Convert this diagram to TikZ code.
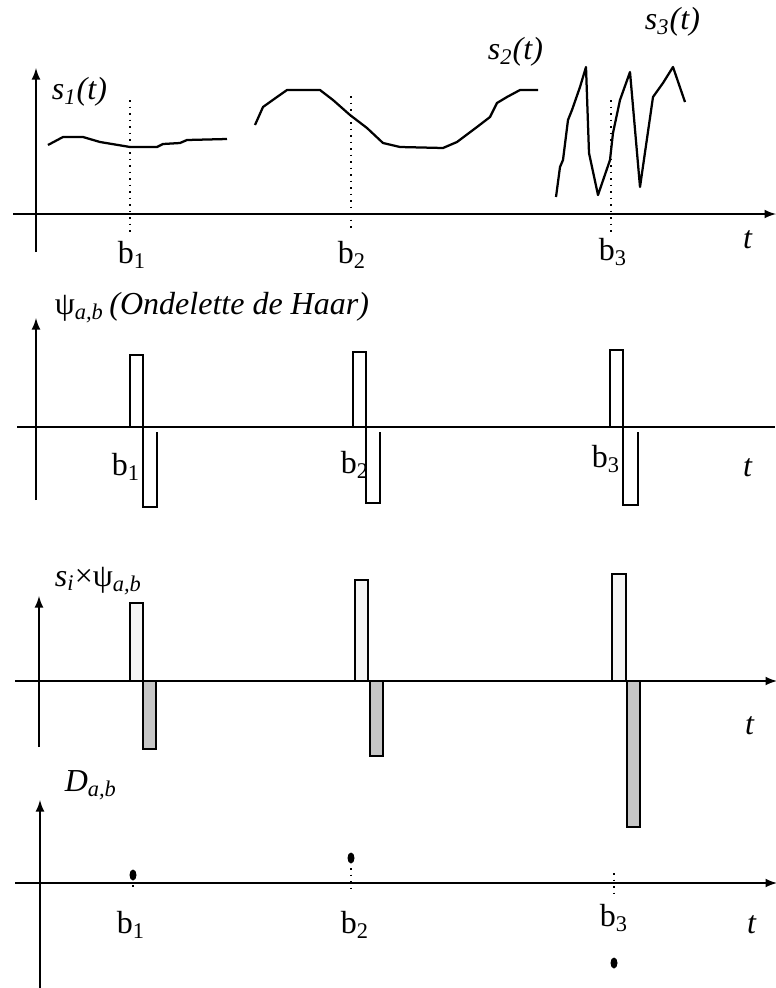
\documentclass[tikz,border=0pt]{standalone}
\usepackage{fontspec}
\setmainfont{Liberation Serif}

\begin{document}
\begin{tikzpicture}[>=latex, x=0.4pt, y=-0.4pt, font=\fontsize{12.8}{15}\selectfont]

  \useasboundingbox (0,0) rectangle (775,988);

  \tikzset{
    axis/.style={line width=0.6pt},
    guide/.style={dotted, line width=0.6pt},
    sig/.style={line width=0.9pt, line join=round},
    posbar/.style={draw, line width=0.7pt, fill=gray!8},
    negbar/.style={draw, line width=1pt, fill=gray!45},
  }

  % Signals s_1, s_2, s_3
  \draw[axis,->] (13,214) -- (776,214);
  \draw[axis,->] (36,252) -- (36,68);
  \node[anchor=west] (ls1) at (43,92) {\textit{s\textsubscript{1}(t)}};
  \node[anchor=west] (ls2) at (479,52) {\textit{s\textsubscript{2}(t)}};
  \node[anchor=west] (ls3) at (636,22) {\textit{s\textsubscript{3}(t)}};
  \node (t1) at (748,240) {\textit{t}};

  \draw[sig] (48,145) -- (63,137) -- (83,137) -- (100,142) -- (130,147)
    -- (157,147) -- (163,144) -- (180,143) -- (187,140) -- (227,139);
  \draw[sig] (255,125) -- (263,107) -- (277,97) -- (287,90) -- (320,90)
    -- (333,100) -- (350,115) -- (367,128) -- (383,143) -- (400,147)
    -- (443,148) -- (457,142) -- (477,127) -- (490,117) -- (497,103)
    -- (507,97) -- (520,90) -- (538,90);
  \draw[sig] (556,197) -- (560,167) -- (563,160) -- (568,120) -- (572,110)
    -- (580,87) -- (586,67) -- (589,153) -- (598,195) -- (610,160)
    -- (613,133) -- (620,100) -- (630,72) -- (640,187) -- (653,97)
    -- (663,83) -- (673,67) -- (685,102);

  \draw[guide] (130,100) -- (130,232);
  \draw[guide] (351,96) -- (351,232);
  \draw[guide] (611,100) -- (611,232);
  \node (b11) at (132,255) {b\textsubscript{1}};
  \node (b12) at (352,255) {b\textsubscript{2}};
  \node (b13) at (613,252) {b\textsubscript{3}};

  % Haar wavelets
  \draw[axis,->] (36,500) -- (36,318);
  \draw[axis] (17,427) -- (775,427);
  \node[anchor=west] (lpsi) at (46,308)
    {ψ\textsubscript{\textit{a,b}}\,\textit{(Ondelette de Haar)}};
  \node (t2) at (748,468) {\textit{t}};

  \draw[axis] (130,427) -- (130,355) -- (143,355) -- (143,507) -- (157,507) -- (157,432);
  \draw[axis] (353,427) -- (353,352) -- (366,352) -- (366,503) -- (380,503) -- (380,432);
  \draw[axis] (610,427) -- (610,350) -- (623,350) -- (623,505) -- (638,505) -- (638,432);
  \node (b21) at (126,467) {b\textsubscript{1}};
  \node (b22) at (355,465) {b\textsubscript{2}};
  \node (b23) at (606,459) {b\textsubscript{3}};

  % Products s_i x psi
  \draw[axis,->] (39,747) -- (39,596);
  \draw[axis,->] (15,681) -- (777,681);
  \node[anchor=west] (lprod) at (46,581)
    {\textit{s\textsubscript{i}}×ψ\textsubscript{\textit{a,b}}};
  \node (t3) at (750,726) {\textit{t}};

  \draw[posbar] (130,681) rectangle (143,603);
  \draw[negbar] (143,681) rectangle (156,749);
  \draw[posbar] (355,681) rectangle (368,580);
  \draw[negbar] (370,681) rectangle (383,756);
  \draw[posbar] (612,681) rectangle (626,574);
  \draw[negbar] (627,681) rectangle (640,827);

  % Coefficients D_{a,b}
  \draw[axis,->] (40,988) -- (40,800);
  \draw[axis,->] (15,883) -- (777,883);
  \node[anchor=west] (ld) at (56,785) {\textit{D\textsubscript{a,b}}};
  \node (t4) at (752,925) {\textit{t}};

  \fill (133,875) ellipse (1.4pt and 2.2pt);
  \fill (351,858) ellipse (1.4pt and 2.2pt);
  \fill (614,963) ellipse (1.4pt and 2.2pt);
  \draw[guide] (133,885) -- (133,890);
  \draw[guide] (351,868) -- (351,893);
  \draw[guide] (614,873) -- (614,893);
  \node (b41) at (131,925) {b\textsubscript{1}};
  \node (b42) at (355,925) {b\textsubscript{2}};
  \node (b43) at (614,918) {b\textsubscript{3}};

\end{tikzpicture}
\end{document}
